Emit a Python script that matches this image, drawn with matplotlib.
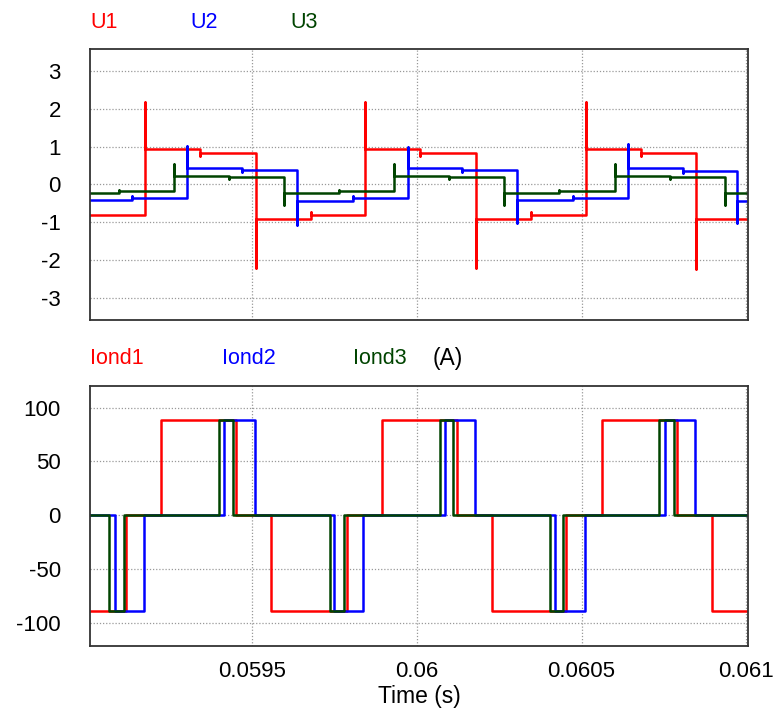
import matplotlib.pyplot as plt
from matplotlib.ticker import FixedLocator, FixedFormatter

plt.rcParams['font.family'] = ['Liberation Sans', 'DejaVu Sans']
plt.rcParams['axes.unicode_minus'] = False

# top panel: switching instants, value at the instant (spike/notch), level after
u1_start = -0.81
u1_t = [0.059175, 0.059342, 0.059511, 0.059678, 0.059843, 0.060010,
        0.060179, 0.060346, 0.060514, 0.060680, 0.060847]
u1_peak = [2.19, 0.75, -2.20, -0.74, 2.19, 0.75, -2.20, -0.74, 2.19, 0.75, -2.23]
u1_lvl = [0.93, 0.82, -0.92, -0.80, 0.93, 0.82, -0.92, -0.80, 0.93, 0.82, -0.92]

u2_start = -0.42
u2_t = [0.059136, 0.059302, 0.059470, 0.059637, 0.059806, 0.059973,
        0.060138, 0.060305, 0.060473, 0.060641, 0.060808, 0.060972]
u2_peak = [-0.31, 1.01, 0.33, -1.06, -0.31, 1.00, 0.33, -1.01, -0.31, 1.06, 0.31, -1.03]
u2_lvl = [-0.37, 0.44, 0.38, -0.43, -0.36, 0.44, 0.38, -0.42, -0.37, 0.44, 0.36, -0.43]

u3_start = -0.22
u3_t = [0.059097, 0.059264, 0.059430, 0.059597, 0.059764, 0.059932,
        0.060099, 0.060265, 0.060432, 0.060600, 0.060767, 0.060934]
u3_peak = [-0.14, 0.53, 0.15, -0.53, -0.14, 0.53, 0.15, -0.53, -0.14, 0.53, 0.15, -0.53]
u3_lvl = [-0.18, 0.22, 0.185, -0.22, -0.18, 0.22, 0.185, -0.22, -0.18, 0.22, 0.185, -0.22]

# bottom panel: switching instants and level after each
i1_start = -88.5
i1_t = [0.059117, 0.059224, 0.059451, 0.059557, 0.059787, 0.059894,
        0.060121, 0.060228, 0.060453, 0.060562, 0.060790, 0.060896]
i1_lvl = [0, 88.5, 0, -88.5, 0, 88.5, 0, -88.5, 0, 88.5, 0, -88.5]

i2_start = 0
i2_t = [0.059084, 0.059172, 0.059416, 0.059509, 0.059749, 0.059836,
        0.060086, 0.060177, 0.060420, 0.060511, 0.060752, 0.060843]
i2_lvl = [-88.5, 0, 88.5, 0, -88.5, 0, 88.5, 0, -88.5, 0, 88.5, 0]

i3_start = 0
i3_t = [0.059067, 0.059111, 0.059401, 0.059443, 0.059735, 0.059780,
        0.060071, 0.060111, 0.060403, 0.060445, 0.060736, 0.060779]
i3_lvl = [-88.5, 0, 88.5, 0, -88.5, 0, 88.5, 0, -88.5, 0, 88.5, 0]

t_start, t_end = 0.059008, 0.061005
xticks = [0.0595, 0.06, 0.0605, 0.061]
xticklabels = ['0.0595', '0.06', '0.0605', '0.061']
u_ticks = [-3, -2, -1, 0, 1, 2, 3]
i_ticks = [-100, -50, 0, 50, 100]

RED, BLUE, GREEN = '#ff0000', '#0000ff', '#004400'


def wave(start, times, levels, peaks=None):
    xs, ys = [t_start], [start]
    prev = start
    for k, t in enumerate(times):
        xs.append(t); ys.append(prev)
        if peaks is not None:
            xs.append(t); ys.append(peaks[k])
        xs.append(t); ys.append(levels[k])
        prev = levels[k]
    xs.append(t_end); ys.append(prev)
    return xs, ys


fig = plt.figure(figsize=(7.77, 7.09), dpi=100)
ax1 = fig.add_axes([0.1158, 0.5487, 0.8469, 0.3822])
ax2 = fig.add_axes([0.1158, 0.0893, 0.8469, 0.3663])

for ax in (ax1, ax2):
    ax.set_xlim(t_start, t_end)
    ax.xaxis.set_major_locator(FixedLocator(xticks))
    ax.grid(True, color='#999999', linestyle=(0, (1, 1.5)), linewidth=0.9)
    ax.tick_params(length=0, labelsize=16)
    ax.tick_params(axis='y', pad=21)
    ax.tick_params(axis='x', pad=11)
    for s in ax.spines.values():
        s.set_color('#333333')
        s.set_linewidth(1.3)

lw = 1.8
ax1.plot(*wave(u1_start, u1_t, u1_lvl, u1_peak), color=RED, lw=lw)
ax1.plot(*wave(u2_start, u2_t, u2_lvl, u2_peak), color=BLUE, lw=lw)
ax1.plot(*wave(u3_start, u3_t, u3_lvl, u3_peak), color=GREEN, lw=lw)
ax1.set_ylim(-3.58, 3.58)
ax1.set_yticks(u_ticks)
ax1.set_xticklabels([])

ax2.plot(*wave(i1_start, i1_t, i1_lvl), color=RED, lw=lw)
ax2.plot(*wave(i2_start, i2_t, i2_lvl), color=BLUE, lw=lw)
ax2.plot(*wave(i3_start, i3_t, i3_lvl), color=GREEN, lw=lw)
ax2.set_ylim(-121, 120)
ax2.set_yticks(i_ticks)
ax2.xaxis.set_major_formatter(FixedFormatter(xticklabels))
ax2.set_xlabel('Time (s)', fontsize=16.5, labelpad=2)

fs = 15.5
fig.text(90 / 777, 1 - 22 / 709, 'U1', color=RED, fontsize=fs, va='center')
fig.text(190 / 777, 1 - 22 / 709, 'U2', color=BLUE, fontsize=fs, va='center')
fig.text(290 / 777, 1 - 22 / 709, 'U3', color=GREEN, fontsize=fs, va='center')
fig.text(90 / 777, 1 - 358 / 709, 'Iond1', color=RED, fontsize=fs, va='center')
fig.text(222 / 777, 1 - 358 / 709, 'Iond2', color=BLUE, fontsize=fs, va='center')
fig.text(353 / 777, 1 - 358 / 709, 'Iond3', color=GREEN, fontsize=fs, va='center')
fig.text(433 / 777, 1 - 358 / 709, '(A)', color='black', fontsize=16.5, va='center')

fig.savefig('out.png', dpi=100)
